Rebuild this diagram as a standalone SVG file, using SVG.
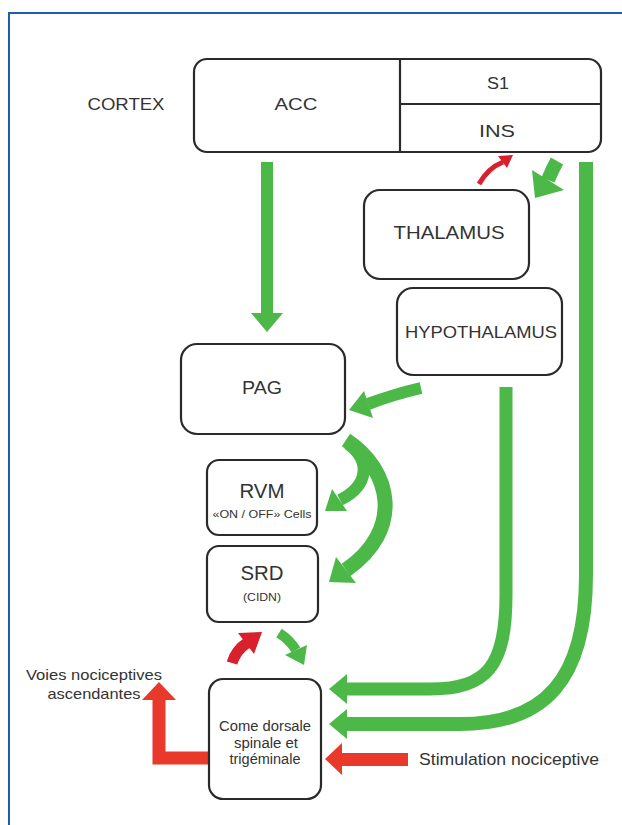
<svg xmlns="http://www.w3.org/2000/svg" width="622" height="825" viewBox="0 0 622 825">
<style>
.box{fill:#fff;stroke:#2a2a2a;stroke-width:2.2}
.div{stroke:#2a2a2a;stroke-width:2.2;fill:none}
text{font-family:"Liberation Sans",Arial,sans-serif;fill:#333;text-anchor:middle}
.g{fill:none;stroke:#4cb848}
.gf{fill:#4cb848}
.r{fill:none;stroke:#e8392b}
.rf{fill:#e8392b}
.rd{fill:none;stroke:#d8212c}
.rdf{fill:#d8212c}
</style>
<rect width="622" height="825" fill="#fff"/>
<path d="M9,825 V13 H622" fill="none" stroke="#1f5fa8" stroke-width="2"/>
<text x="126" y="110" font-size="16" textLength="77" lengthAdjust="spacingAndGlyphs" fill="#555">CORTEX</text>

<g id="connectors">
  <!-- ACC -> PAG -->
  <rect x="261" y="162" width="12" height="152" class="gf"/>
  <polygon points="251,313 283,313 267,332" class="gf"/>
  <!-- right long line to Come (lower) -->
  <path d="M586,162 V575 C586,680 545,724 460,724 H345" class="g" stroke-width="14"/>
  <polygon points="347,709 347,739 329,724" class="gf"/>
  <!-- hypothalamus to Come (upper) -->
  <path d="M506,387 V595 C506,665 488,689 430,689 H345" class="g" stroke-width="13"/>
  <polygon points="347,674 347,704 329,689" class="gf"/>
  <!-- hypothalamus -> PAG -->
  <path d="M421,388 Q395,394 368,404" class="g" stroke-width="12"/>
  <polygon points="364,391 373,418 349,410" class="gf"/>
  <!-- PAG -> SRD long arc -->
  <path d="M346,440 C392,470 404,530 346,570" class="g" stroke-width="15"/>
  <polygon points="336,557 356,583 329,582" class="gf"/>
  <!-- PAG -> RVM short arc -->
  <path d="M348,444 C370,460 370,485 340,500" class="g" stroke-width="12"/>
  <polygon points="332,489 347,511 325,511" class="gf"/>
  <!-- INS -> Thalamus green -->
  <path d="M557,161 Q552,170 548,180" class="g" stroke-width="14"/>
  <polygon points="532,170 564,190 535,198" class="gf"/>
  <!-- Thalamus -> INS red -->
  <path d="M479,184 Q488,168 503,162" class="rd" stroke-width="5"/>
  <polygon points="498,156 507,168 513,155" class="rdf"/>
  <!-- Come -> SRD red -->
  <path d="M232,663 Q236,650 247,643" class="rd" stroke-width="11"/>
  <polygon points="238,633 254,654 262,632" class="rdf"/>
  <!-- SRD -> Come green -->
  <path d="M279,633 Q290,640 296,650" class="g" stroke-width="10"/>
  <polygon points="285,655 307,645 304,665" class="gf"/>
  <!-- Stimulation red -->
  <rect x="340" y="753" width="68" height="13" class="rf"/>
  <polygon points="342,743 342,775 325,759" class="rf"/>
  <!-- Voies ascendantes red elbow -->
  <path d="M209,758 H159 V699" class="r" stroke-width="13"/>
  <polygon points="142,700 176,700 159,682" class="rf"/>
</g>

<g id="cortex">
  <rect x="194" y="59" width="407" height="93" rx="13" class="box"/>
  <path d="M400,59 V152 M400,104 H601" class="div"/>
  <text x="296" y="110" font-size="17" textLength="43" lengthAdjust="spacingAndGlyphs">ACC</text>
  <text x="498" y="89" font-size="16" textLength="22" lengthAdjust="spacingAndGlyphs">S1</text>
  <text x="497" y="137" font-size="16" textLength="36" lengthAdjust="spacingAndGlyphs">INS</text>
</g>
<g id="thalamus">
  <rect x="364" y="190" width="165" height="89" rx="16" class="box"/>
  <text x="449" y="239" font-size="19" textLength="111" lengthAdjust="spacingAndGlyphs">THALAMUS</text>
</g>
<g id="hypothalamus">
  <rect x="397" y="288" width="165" height="87" rx="16" class="box"/>
  <text x="481" y="338" font-size="17" textLength="152" lengthAdjust="spacingAndGlyphs">HYPOTHALAMUS</text>
</g>
<g id="pag">
  <rect x="181" y="344" width="164" height="90" rx="16" class="box"/>
  <text x="262" y="394" font-size="19" textLength="40" lengthAdjust="spacingAndGlyphs">PAG</text>
</g>
<g id="rvm">
  <rect x="207" y="460" width="110" height="75" rx="12" class="box"/>
  <text x="262" y="498" font-size="20" textLength="45" lengthAdjust="spacingAndGlyphs">RVM</text>
  <text x="262" y="518" font-size="10" textLength="99" lengthAdjust="spacingAndGlyphs">«ON / OFF» Cells</text>
</g>
<g id="srd">
  <rect x="207" y="546" width="111" height="76" rx="12" class="box"/>
  <text x="262" y="580" font-size="20" textLength="43" lengthAdjust="spacingAndGlyphs">SRD</text>
  <text x="262" y="601" font-size="11" textLength="38" lengthAdjust="spacingAndGlyphs">(CIDN)</text>
</g>
<g id="come">
  <rect x="209" y="679" width="112" height="120" rx="14" class="box"/>
  <text x="265" y="731" font-size="14" textLength="92" lengthAdjust="spacingAndGlyphs">Come dorsale</text>
  <text x="266" y="748" font-size="14" textLength="64" lengthAdjust="spacingAndGlyphs">spinale et</text>
  <text x="265" y="764" font-size="14" textLength="71" lengthAdjust="spacingAndGlyphs">trigéminale</text>
</g>
<g id="labels">
  <text x="94" y="680" font-size="15" textLength="136" lengthAdjust="spacingAndGlyphs">Voies nociceptives</text>
  <text x="94" y="699" font-size="15" textLength="93" lengthAdjust="spacingAndGlyphs">ascendantes</text>
  <text x="509" y="765" font-size="17" textLength="180" lengthAdjust="spacingAndGlyphs">Stimulation nociceptive</text>
</g>
</svg>
